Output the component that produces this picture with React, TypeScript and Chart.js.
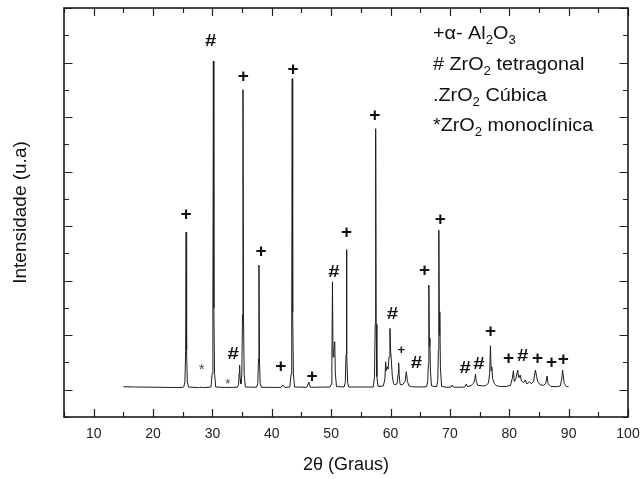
import React, { useEffect, useRef } from "react";
import { Chart, registerables } from "chart.js";

Chart.register(...registerables);

const twoTheta = [
  15.0, 17.0, 19.0, 21.0, 23.0, 25.0,
  25.17, 25.37, 25.49, 25.57, 25.65, 25.77, 25.97,
  27.8, 28.2, 28.6,
  29.76, 29.96, 30.08, 30.16, 30.24, 30.36, 30.56,
  32.0, 34.2, 34.4, 34.5, 34.58, 34.66, 34.8, 34.95, 35.07, 35.15, 35.23, 35.35, 35.55,
  37.44, 37.64, 37.76, 37.84, 37.92, 38.04, 38.24,
  41.5, 41.85, 42.2,
  43.04, 43.24, 43.36, 43.44, 43.52, 43.64, 43.84,
  45.9, 46.24, 46.5,
  49.8, 50.0, 50.12, 50.22, 50.32, 50.45, 50.6, 50.7, 50.9,
  52.18, 52.38, 52.5, 52.58, 52.66, 52.78, 52.98,
  57.1, 57.3, 57.42, 57.5, 57.58, 57.7, 57.9,
  58.8, 59.05, 59.18, 59.3, 59.47, 59.6, 59.75, 59.9, 60.02, 60.14, 60.3, 60.5,
  60.7, 61.1, 61.3, 61.37, 61.45, 61.6, 62.0, 62.45, 62.66, 62.85, 63.1,
  63.5, 65.0,
  66.06, 66.26, 66.38, 66.46, 66.54, 66.62, 66.72, 66.9,
  67.75, 67.95, 68.06, 68.14, 68.22, 68.3, 68.4, 68.6,
  69.5, 70.2, 70.4, 70.6, 71.5,
  72.5, 72.75, 73.0,
  73.6, 74.0, 74.2, 74.31, 74.45, 74.7, 75.5,
  76.0, 76.5, 76.7, 76.83, 76.95, 77.05, 77.2, 77.5, 77.9,
  78.5, 79.5,
  80.2, 80.5, 80.7, 80.85, 81.1, 81.42, 81.6, 81.85, 82.05, 82.4, 82.7, 82.95,
  83.2, 83.4, 83.7, 84.1, 84.4, 84.6, 84.8, 85.2, 85.8,
  86.15, 86.36, 86.55, 87.0, 88.0,
  88.6, 88.85, 88.98, 89.1, 89.25, 89.6, 90.0,
];

const intensity = [
  55, 50, 48, 45, 42, 42,
  50, 145, 720, 2890, 720, 145, 50,
  38, 48, 38,
  50, 300, 1500, 6026, 1500, 300, 50,
  42, 45, 90, 300, 452, 200, 110, 280, 1380, 5502, 1380, 280, 50,
  45, 115, 570, 2284, 570, 115, 45,
  42, 85, 42,
  50, 285, 1425, 5703, 1425, 285, 50,
  45, 140, 45,
  50, 100, 495, 1978, 600, 700, 880, 300, 60,
  50, 130, 640, 2571, 640, 130, 50,
  50, 240, 1200, 4787, 1200, 240, 60,
  70, 200, 513, 350, 421, 380, 600, 1124, 700, 544, 250, 120,
  90, 110, 300, 495, 280, 100, 90, 150, 330, 150, 70,
  55, 50,
  55, 150, 470, 1918, 800, 950, 350, 70,
  55, 150, 720, 2925, 1000, 1430, 400, 60,
  45, 48, 86, 48, 45,
  50, 104, 55,
  80, 120, 200, 287, 150, 80, 70,
  75, 120, 300, 806, 350, 421, 200, 110, 70,
  60, 60,
  80, 200, 348, 150, 200, 361, 220, 269, 160, 130, 178, 110,
  120, 150, 110, 150, 361, 250, 150, 90, 80,
  120, 251, 110, 60, 55,
  70, 200, 361, 250, 120, 60, 55,
];

// Phase markers written above the peaks
const markerSymbols = [
  "+", "#", "+", "+", "+", "*", "*", "#", "+", "+",
  "#", "+", "+", "#", "+", "#", "+", "+", "#", "#",
  "+", "+", "#", "+", "+", "+",
];
const markerTheta = [
  25.57, 29.72, 35.2, 38.18, 43.6, 28.2, 32.58, 33.5, 41.5, 46.8,
  50.45, 52.58, 57.34, 60.3, 61.82, 64.35, 65.74, 68.38, 72.58, 74.87,
  76.83, 79.86, 82.26, 84.78, 87.13, 89.1,
];
const markerIntensity = [
  3200, 6394, 5733, 2527, 5874, 421, 159, 654, 421, 238,
  2161, 2883, 5031, 1386, 714, 483, 2174, 3108, 392, 471,
  1062, 575, 604, 575, 502, 544,
];
const markerSmall = [
  false, false, false, false, false, false, true, false, false, false,
  false, false, false, false, true, false, false, false, false, false,
  false, false, false, false, false, false,
];

// Phase key text: [text, isSubscript]
const keyLines: [string, boolean][][] = [
  [["+α- Al", false], ["2", true], ["O", false], ["3", true]],
  [["# ZrO", false], ["2", true], [" tetragonal", false]],
  [[".ZrO", false], ["2", true], [" Cúbica", false]],
  [["*ZrO", false], ["2", true], [" monoclínica", false]],
];

const xTitle = "2θ (Graus)";
const yTitle = "Intensidade (u.a)";

const FONT = "'Liberation Sans', Arial, Helvetica, sans-serif";

const overlayPlugin = {
  id: "overlay",
  afterDraw(chart: any) {
    const { ctx, chartArea: a, scales } = chart;
    const xs = scales.x;
    const ys = scales.y;
    ctx.save();

    // inward ticks on all four sides
    ctx.strokeStyle = "#222";
    ctx.lineWidth = 1.2;
    ctx.beginPath();
    xs.ticks.forEach((t: any) => {
      const px = Math.round(xs.getPixelForValue(t.value)) + 0.5;
      const len = t.value % 10 === 0 ? 8 : 5;
      ctx.moveTo(px, a.bottom);
      ctx.lineTo(px, a.bottom - len);
      ctx.moveTo(px, a.top);
      ctx.lineTo(px, a.top + len);
    });
    ys.ticks.forEach((t: any) => {
      const py = Math.round(ys.getPixelForValue(t.value)) + 0.5;
      const len = t.value % 1000 === 0 ? 8.5 : 5;
      ctx.moveTo(a.left, py);
      ctx.lineTo(a.left + len, py);
      ctx.moveTo(a.right, py);
      ctx.lineTo(a.right - len, py);
    });
    ctx.stroke();

    // frame
    ctx.lineWidth = 1.6;
    ctx.strokeStyle = "#1a1a1a";
    ctx.strokeRect(a.left, a.top, a.right - a.left, a.bottom - a.top);

    // peak markers
    ctx.textAlign = "center";
    ctx.textBaseline = "middle";
    markerSymbols.forEach((s, i) => {
      const px = xs.getPixelForValue(markerTheta[i]);
      let py = ys.getPixelForValue(markerIntensity[i]);
      let sx = 1;
      if (s === "*") {
        ctx.font = `${markerSmall[i] ? 13 : 15}px ${FONT}`;
        ctx.fillStyle = "#444";
        py += 3;
      } else if (s === "#") {
        ctx.font = `bold 17px ${FONT}`;
        ctx.fillStyle = "#111";
        sx = 1.2;
      } else {
        ctx.font = `bold ${markerSmall[i] ? 13 : 19}px ${FONT}`;
        ctx.fillStyle = "#111";
      }
      ctx.save();
      ctx.translate(px, py);
      ctx.scale(sx, 1);
      ctx.fillText(s, 0, 0);
      ctx.restore();
    });

    // phase key
    ctx.textAlign = "left";
    ctx.textBaseline = "alphabetic";
    ctx.fillStyle = "#111";
    const keyLeft = xs.getPixelForValue(67.15);
    const keyBase = [6423, 5855, 5297, 4738];
    keyLines.forEach((line, li) => {
      const by = ys.getPixelForValue(keyBase[li]);
      ctx.save();
      ctx.translate(keyLeft, by);
      ctx.scale(1.1, 1);
      let cx = 0;
      line.forEach(([txt, sub]) => {
        ctx.font = sub ? `12px ${FONT}` : `18px ${FONT}`;
        ctx.fillText(txt, cx, sub ? 5 : 0);
        cx += ctx.measureText(txt).width;
      });
      ctx.restore();
    });

    ctx.restore();
  },
};

export default function App() {
  const ref = useRef<HTMLCanvasElement | null>(null);

  useEffect(() => {
    if (!ref.current) return;
    Chart.defaults.font.family = FONT;
    const chart = new Chart(ref.current, {
      type: "line",
      data: {
        datasets: [
          {
            data: twoTheta.map((x, i) => ({ x, y: intensity[i] })),
            borderColor: "#1c1c1c",
            borderWidth: 1,
            pointRadius: 0,
            tension: 0,
            fill: false,
          },
        ],
      },
      options: {
        animation: false,
        responsive: false,
        maintainAspectRatio: false,
        layout: { padding: { top: 8, right: 14, left: 0, bottom: 0 } },
        plugins: { legend: { display: false }, tooltip: { enabled: false } },
        scales: {
          x: {
            type: "linear",
            min: 5,
            max: 100,
            grid: { display: false, drawTicks: false },
            border: { display: false },
            ticks: {
              stepSize: 5,
              autoSkip: false,
              maxRotation: 0,
              padding: 9,
              color: "#222",
              font: { family: FONT, size: 14 },
              callback: (v: any) => (Number(v) % 10 === 0 ? String(v) : ""),
            },
            title: {
              display: true,
              text: xTitle,
              color: "#111",
              font: { family: FONT, size: 18 },
              padding: { top: 0, bottom: 3 },
            },
            afterFit: (s: any) => {
              s.height = 62;
              s.paddingLeft = 0;
              s.paddingRight = 0;
            },
          },
          y: {
            type: "linear",
            min: -500,
            max: 7000,
            grid: { display: false, drawTicks: false },
            border: { display: false },
            ticks: {
              stepSize: 500,
              autoSkip: false,
              padding: 0,
              callback: () => "",
            },
            title: {
              display: true,
              text: yTitle,
              color: "#111",
              font: { family: FONT, size: 19 },
              padding: { top: 9, bottom: 0 },
            },
            afterFit: (s: any) => {
              s.width = 64;
              s.paddingTop = 0;
              s.paddingBottom = 0;
            },
          },
        },
      } as any,
      plugins: [overlayPlugin],
    });
    return () => chart.destroy();
  }, []);

  return (
    <canvas
      ref={ref}
      width={642}
      height={479}
      style={{ position: "fixed", left: 0, top: 0, display: "block", background: "#fff" }}
    />
  );
}
